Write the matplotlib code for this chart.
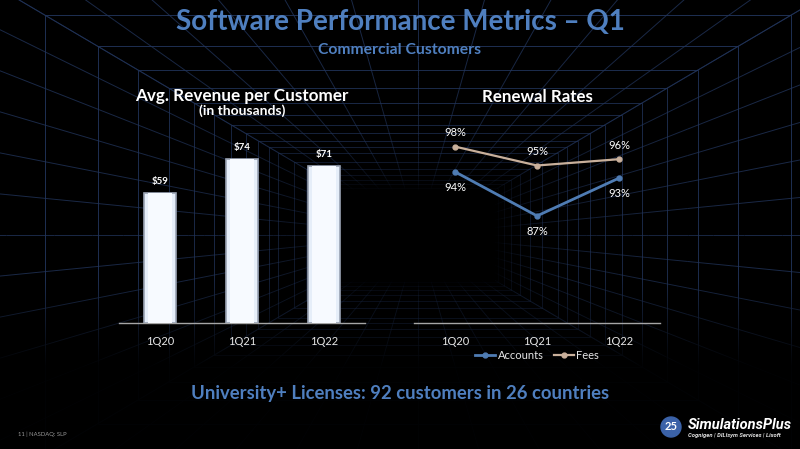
import numpy as np
import matplotlib
matplotlib.use("Agg")
import matplotlib.pyplot as plt
from matplotlib.collections import LineCollection
from matplotlib.colors import to_rgba

plt.rcParams['font.family'] = ['Lato', 'DejaVu Sans']

# ---- data ----
categories = ["1Q20", "1Q21", "1Q22"]
revenue = [59, 74, 71]
revenue_labels = ["$59", "$74", "$71"]
accounts = [94, 87, 93]
fees = [98, 95, 96]

BLUE_TITLE = "#4f7fbf"
ACC_COLOR = "#4f7cb3"
FEE_COLOR = "#c9b09b"
TEXT = "#e6e6e6"

W, H = 800, 449
fig = plt.figure(figsize=(8.0, 4.49), dpi=100, facecolor="black")

# ---- background tunnel grid (decoration) ----
bg = fig.add_axes([0, 0, 1, 1], zorder=0)
bg.set_xlim(0, W)
bg.set_ylim(H, 0)
bg.axis("off")
bg.set_facecolor("black")
vx, vy = 418, 235
HW, HH = 560, 330
base = np.array(to_rgba("#22355c"))

def alpha_at(z):
    return float(np.clip(1.0 - (z - 1.0) / 6.5, 0.0, 0.9))

zs = np.concatenate([np.arange(1.0, 4.0, 0.25), np.arange(4.0, 8.0, 0.5)])
segs, cols = [], []
for z in zs:
    hw, hh = HW / z, HH / z
    a = alpha_at(z)
    corners = [(vx - hw, vy - hh), (vx + hw, vy - hh), (vx + hw, vy + hh), (vx - hw, vy + hh)]
    for k in range(4):
        segs.append([corners[k], corners[(k + 1) % 4]])
        c = base.copy(); c[3] = a; cols.append(c)
n = 6
zfine = np.linspace(1.0, 8.0, 40)
for i in range(-n, n + 1):
    f = i / n
    dirs = [(f * HW, -HH), (f * HW, HH), (-HW, f * HH), (HW, f * HH)]
    for dx, dy in dirs:
        for z0, z1 in zip(zfine[:-1], zfine[1:]):
            p0 = (vx + dx / z0, vy + dy / z0)
            p1 = (vx + dx / z1, vy + dy / z1)
            segs.append([p0, p1])
            c = base.copy(); c[3] = alpha_at(0.5 * (z0 + z1)) * 0.85; cols.append(c)
bg.add_collection(LineCollection(segs, colors=cols, linewidths=0.7))
# fade to black at bottom
grad = np.zeros((H, 1, 4))
yy = np.arange(H)
grad[:, 0, 3] = np.clip((yy - 280) / 90.0, 0, 0.95)
bg.imshow(grad, extent=[0, W, H, 0], aspect="auto", zorder=5)

def fx(px):
    return px / W

def fy(py):
    return 1 - py / H

# ---- titles ----
fig.text(0.5, fy(22), "Software Performance Metrics \u2013 Q1", ha="center", va="center",
         color=BLUE_TITLE, fontsize=20, fontweight="bold")
fig.text(0.5, fy(50), "Commercial Customers", ha="center", va="center",
         color=BLUE_TITLE, fontsize=11.3, fontweight="bold")
fig.text(fx(242), fy(96), "Avg. Revenue per Customer", ha="center", va="center",
         color="white", fontsize=12.3, fontweight="bold")
fig.text(fx(242), fy(111), "(in thousands)", ha="center", va="center",
         color="white", fontsize=10, fontweight="bold")
fig.text(fx(537), fy(97), "Renewal Rates", ha="center", va="center",
         color="white", fontsize=12.2, fontweight="bold")
fig.text(0.5, fy(393), "University+ Licenses: 92 customers in 26 countries", ha="center",
         va="center", color=BLUE_TITLE, fontsize=13.3, fontweight="bold")
fig.text(fx(18), fy(434), "11 | NASDAQ: SLP", ha="left", va="center",
         color="#9a9a9a", fontsize=4.2)

# logo
fig.text(fx(688), fy(425), "SimulationsPlus", ha="left", va="center", color="white",
         fontsize=10.5, fontstyle="italic", fontweight="bold", family=["Roboto", "DejaVu Sans"])
fig.text(fx(688), fy(436), "Cognigen | DILIsym Services | Lixoft", ha="left", va="center",
         color="#dddddd", fontsize=4.2, fontstyle="italic", fontweight="bold",
         family=["Roboto", "DejaVu Sans"])
bg.add_patch(plt.Circle((671, 427), 10, color="#3b62a8", zorder=6))
bg.text(671, 427, "25", ha="center", va="center", color="white", fontsize=8,
        fontweight="bold", zorder=7)

# ---- axes positions ----
ax_b = 134
ax_t = 323
left1 = fig.add_axes([fx(119), fy(ax_t), 246 / W, (ax_t - ax_b) / H], zorder=2)
right = fig.add_axes([fx(414), fy(ax_t), 246 / W, (ax_t - ax_b) / H], zorder=2)

for ax in (left1, right):
    ax.set_facecolor("none")
    for s in ("top", "right", "left"):
        ax.spines[s].set_visible(False)
    ax.spines["bottom"].set_color("#a6a6a6")
    ax.spines["bottom"].set_linewidth(1.0)
    ax.tick_params(axis="y", left=False, labelleft=False)
    ax.tick_params(axis="x", bottom=False, colors=TEXT, labelsize=8, pad=6)

# bar chart
x = np.arange(len(categories))
left1.bar(x, revenue, width=0.4, color="#e6eef9", edgecolor="#9aa3b3", linewidth=1.2, zorder=3)
left1.bar(x, revenue, width=0.30, color="#f7faff", edgecolor="none", linewidth=0, zorder=4)
for xi, v, lab in zip(x, revenue, revenue_labels):
    left1.annotate(lab, (xi, v), xytext=(0, 5), textcoords="offset points", ha="center",
                   va="bottom", color="white", fontsize=7, fontweight="bold")
left1.set_xlim(-0.5, 2.5)
left1.set_ylim(0, 85.5)
left1.set_xticks(x)
left1.set_xticklabels(categories)

# line chart
right.plot(x, accounts, color=ACC_COLOR, lw=2, marker="o", markersize=3.5, label="Accounts", zorder=3)
right.plot(x, fees, color=FEE_COLOR, lw=1.6, marker="o", markersize=3.5, label="Fees", zorder=3)
for xi, v in zip(x, accounts):
    right.annotate(f"{v}%", (xi, v), xytext=(0, -11), textcoords="offset points", ha="center",
                   va="center", color="white", fontsize=8)
for xi, v in zip(x, fees):
    right.annotate(f"{v}%", (xi, v), xytext=(0, 10), textcoords="offset points", ha="center",
                   va="center", color="white", fontsize=8)
right.set_xlim(-0.5, 2.5)
right.set_ylim(70, 100)
right.set_xticks(x)
right.set_xticklabels(categories)
leg = right.legend(loc="center", bbox_to_anchor=(0.5, -0.17), ncol=2, frameon=False,
                   fontsize=8, handlelength=1.8, handletextpad=0.2, columnspacing=0.9)
for t in leg.get_texts():
    t.set_color(TEXT)

fig.savefig("out.png", dpi=100, facecolor="black")
